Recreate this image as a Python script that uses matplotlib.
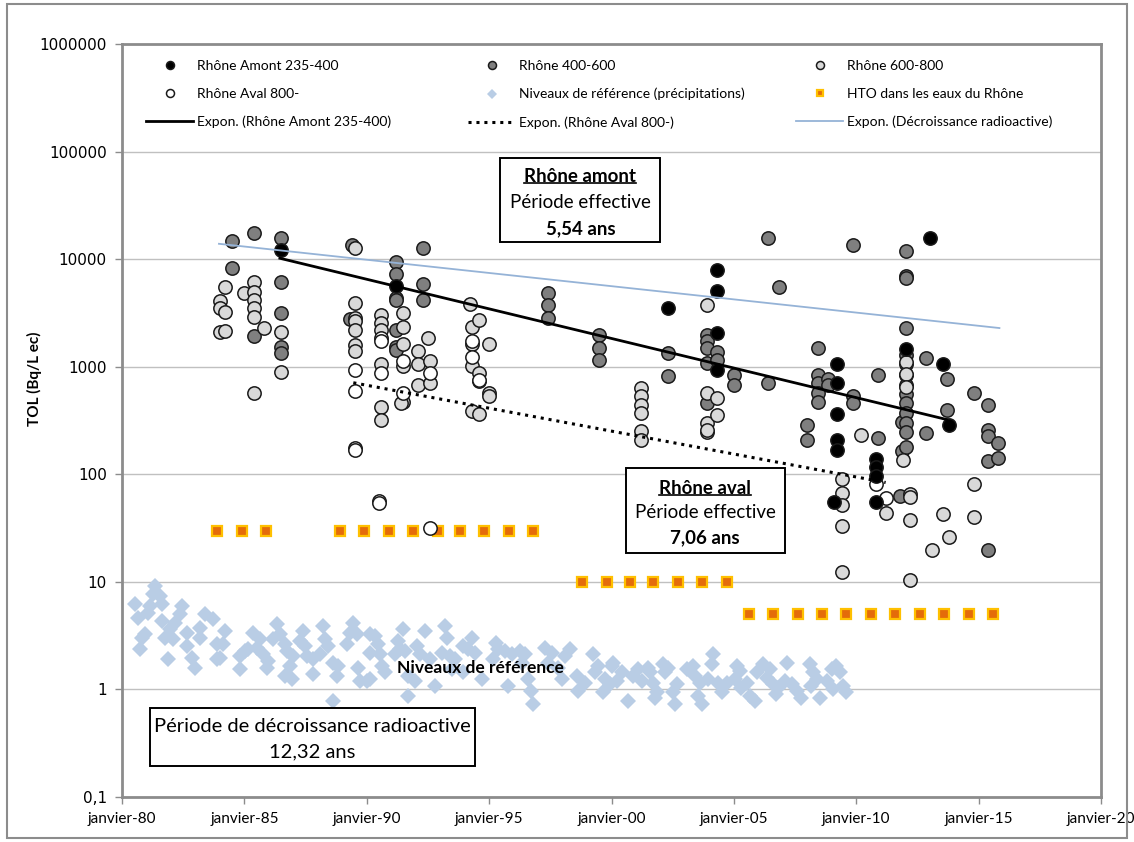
"""
plot.py - TOL dans le Rhône (log scale), recreated with matplotlib
"""

# === IMPORTS ===

import matplotlib

matplotlib.use("Agg")
import matplotlib.pyplot as plt
from matplotlib.legend import Legend
from matplotlib.lines import Line2D
from matplotlib.patches import Rectangle
from matplotlib.ticker import NullLocator

# === DATA (years as decimal years, values in Bq/L ec) ===

AMONT_YEARS = [1986.5, 1991.2, 2002.3, 2004.3, 2004.3, 2004.3, 2004.3,
               2009.2, 2009.2, 2009.2, 2009.2, 2009.2, 2009.1,
               2010.8, 2010.8, 2010.8, 2010.8, 2012.05, 2013.0, 2013.55, 2013.8]
AMONT_VALUES = [12200, 5670, 3500, 7900, 5100, 2050, 940,
                1050, 700, 360, 210, 170, 55,
                138, 118, 97, 55, 1450, 15800, 1050, 290]

MID_YEARS = [1984.5, 1984.5, 1985.4, 1985.4,
             1986.5, 1986.5, 1986.5, 1986.5, 1986.5, 1989.4, 1989.3,
             1991.2, 1991.2, 1991.2, 1991.2, 1991.2, 1991.2, 1991.2,
             1992.3, 1992.3, 1992.3, 1997.4, 1997.4, 1997.4,
             1999.5, 1999.5, 1999.5, 2002.3, 2002.3,
             2003.9, 2003.9, 2003.9, 2003.9, 2003.9, 2004.3, 2004.3,
             2005.0, 2005.0, 2006.4, 2006.4, 2006.85, 2008.0, 2008.0,
             2008.45, 2008.45, 2008.45, 2008.45, 2008.45, 2008.85, 2008.85,
             2009.85, 2009.85, 2009.85, 2010.9, 2010.9, 2011.8, 2011.85, 2011.85,
             2012.05, 2012.05, 2012.05, 2012.05, 2012.05, 2012.05, 2012.05,
             2012.05, 2012.05, 2012.05, 2012.05, 2012.05, 2012.05, 2012.05,
             2012.85, 2012.85, 2013.7, 2013.7, 2014.8,
             2015.4, 2015.4, 2015.4, 2015.4, 2015.4, 2015.8, 2015.8]
MID_VALUES = [14800, 8300, 17600, 1940,
              15800, 6100, 3160, 1540, 1350, 13500, 2800,
              9460, 7300, 4380, 4200, 2210, 1540, 1440,
              12800, 5900, 4200, 4880, 3780, 2830,
              1990, 1500, 1160, 1350, 815,
              1990, 1740, 1500, 1090, 462, 1370, 1160,
              845, 683, 15800, 710, 5540, 290, 210,
              1500, 845, 700, 575, 470, 770, 680,
              13600, 530, 460, 830, 218, 63, 309, 165,
              11800, 7000, 6700, 2290, 1290, 1050, 845,
              683, 555, 460, 370, 300, 245, 180,
              1210, 243, 770, 400, 571,
              445, 261, 228, 134, 20, 194, 141]

HIGH_YEARS = [1984.0, 1984.0, 1984.0, 1984.2, 1984.2, 1984.2, 1985.0,
              1985.4, 1985.4, 1985.4, 1985.4, 1985.4, 1985.4, 1985.8, 1986.5, 1986.5,
              1989.5, 1989.5, 1989.5, 1989.5, 1989.5, 1989.5, 1989.5,
              1990.6, 1990.6, 1990.6, 1990.6, 1990.6, 1990.6,
              1991.5, 1991.5, 1991.5, 1991.5, 1991.5, 1991.4,
              1992.1, 1992.1, 1992.1, 1992.5, 1992.6, 1992.6,
              1994.2, 1994.3, 1994.3, 1994.3, 1994.3,
              1994.6, 1994.6, 1994.6, 1994.6, 1995.0, 1995.0, 1995.0,
              2001.2, 2001.2, 2001.2, 2001.2, 2001.2, 2001.2,
              2003.9, 2003.9, 2003.9, 2003.9, 2003.9, 2004.3, 2004.3,
              2009.4, 2009.4, 2009.4, 2009.4, 2009.4, 2010.2, 2011.2, 2011.9,
              2012.2, 2012.2, 2012.2, 2012.2, 2012.05, 2012.05, 2012.05,
              2013.1, 2013.55, 2013.8, 2014.8, 2014.8]
HIGH_VALUES = [4050, 3540, 2120, 5540, 3250, 2130, 4880,
               6170, 4980, 4200, 3540, 2920, 575, 2310, 2120, 900,
               12800, 3930, 2850, 2640, 2210, 1600, 1390,
               3040, 2560, 2210, 1050, 426, 323,
               3160, 2350, 1640, 1020, 470, 464,
               1390, 1050, 683, 1860, 1140, 710,
               3850, 2350, 1640, 1020, 390,
               2740, 880, 730, 360, 1640, 575, 530,
               635, 530, 445, 373, 253, 210,
               3780, 575, 300, 245, 261, 510, 355,
               90, 67, 52, 33, 12.3, 230, 44, 137,
               66, 62, 38, 10.4, 1100, 850, 650,
               20, 43, 26, 81, 40]

AVAL_YEARS = [1989.5, 1989.5, 1989.5, 1989.5, 1990.5, 1990.5,
              1990.6, 1990.6, 1990.6, 1991.5, 1991.5, 1992.6, 1992.6,
              1994.3, 1994.3, 1994.6, 2010.8, 2011.2]
AVAL_VALUES = [925, 590, 175, 170, 56, 54,
               1860, 1740, 880, 1140, 575, 880, 31.5,
               1740, 1220, 760, 81, 60]

PRECIP_YEARS = [
    1981.35, 1981.28, 1981.55, 1981.62, 1980.53, 1980.67, 1981.08, 1981.14, 1980.94, 1980.8,
    1980.73, 1981.62, 1981.89, 1982.44, 1982.37, 1982.16, 1981.96, 1981.76, 1982.1, 1982.64,
    1982.64, 1982.85, 1982.98, 1983.39, 1983.73, 1983.19, 1983.19, 1983.87, 1984.14, 1984.21,
    1984.0, 1983.87, 1984.82, 1985.02, 1985.16, 1985.36, 1985.64, 1985.5, 1985.77, 1985.98,
    1985.91, 1984.82, 1986.32, 1986.18, 1986.45, 1986.66, 1986.73, 1987.0, 1986.86, 1986.66,
    1986.93, 1987.41, 1987.27, 1987.47, 1987.54, 1987.82, 1987.82, 1988.22, 1988.29, 1988.43,
    1988.09, 1988.63, 1988.84, 1988.77, 1988.63, 1989.45, 1989.31, 1989.18, 1989.59, 1989.65,
    1989.72, 1989.99,
    1990.13, 1990.33, 1990.47, 1990.13, 1990.54, 1990.61, 1990.74, 1990.13, 1991.29, 1991.49,
    1991.36, 1991.56, 1991.15, 1991.7, 1991.97, 1992.04, 1992.17, 1992.38, 1992.58, 1992.79,
    1991.7, 1993.19, 1993.26, 1993.06, 1993.4, 1993.6, 1993.47, 1993.94, 1994.28, 1994.15,
    1994.42, 1993.94, 1994.69, 1995.3, 1995.37, 1995.17, 1995.65, 1995.92, 1996.26, 1996.46,
    1996.33, 1995.78, 1996.6, 1996.73, 1996.8, 1997.28, 1997.55, 1997.42, 1997.82, 1998.3,
    1998.1, 1997.96, 1998.57, 1998.64, 1998.91, 1999.25, 1999.46, 1999.32, 1999.73, 1999.93,
    1999.66, 2000.0,
    2000.07, 2000.41, 2000.21, 2000.68, 2000.89, 2001.09, 2001.23, 2001.5, 2001.57, 2001.71,
    2001.84, 2001.77, 2002.11, 2002.32, 2002.18, 2002.66, 2002.52, 2002.59, 2003.07, 2003.34,
    2003.41, 2003.61, 2003.54, 2003.68, 2003.95, 2004.16, 2004.09, 2004.36, 2004.5, 2004.7,
    2005.11, 2005.25, 2005.04, 2005.31, 2005.52, 2005.65, 2005.86, 2005.93, 2006.2, 2006.34,
    2006.47, 2006.61, 2006.74, 2006.81, 2007.15, 2007.08, 2007.36, 2007.56, 2007.76, 2008.1,
    2008.24, 2008.38, 2008.17, 2008.51, 2008.79, 2008.99, 2009.19, 2009.33, 2009.06, 2009.47,
    2009.6,
]
PRECIP_VALUES = [
    9.1, 7.65, 7.4, 6.2, 6.2, 4.65, 5.18, 5.97, 3.25, 3.03,
    2.36, 4.33, 1.91, 5.97, 4.99, 4.18, 3.62, 3.03, 2.92, 3.37,
    2.54, 1.98, 1.6, 4.99, 4.49, 3.75, 3.03, 2.63, 2.63, 3.49,
    1.98, 1.91, 2.05, 2.28, 2.36, 3.37, 2.92, 2.45, 2.12, 1.84,
    1.6, 1.54, 4.03, 2.92, 3.25, 2.63, 2.28, 2.05, 1.65, 1.34,
    1.24, 3.49, 2.82, 2.54, 2.05, 1.91, 1.38, 3.89, 2.92, 2.54,
    2.12, 1.78, 1.65, 1.34, 0.78, 4.18, 3.37, 2.63, 3.25, 1.6,
    1.2, 1.2,
    3.25, 3.14, 2.63, 2.2, 2.12, 1.65, 1.44, 1.24, 2.82, 3.62,
    2.36, 2.28, 2.12, 1.34, 1.2, 2.54, 2.12, 3.49, 1.91, 1.08,
    0.87, 3.89, 3.03, 2.2, 2.05, 1.91, 1.54, 2.54, 3.03, 2.36,
    2.2, 1.44, 1.24, 2.72, 2.36, 1.91, 2.28, 2.12, 2.28, 2.12,
    1.78, 1.08, 1.24, 0.97, 0.73, 2.45, 2.2, 1.78, 1.6, 2.36,
    2.05, 1.24, 1.34, 0.97, 1.16, 2.12, 1.65, 1.44, 1.24, 1.12,
    0.94, 1.65,
    1.78, 1.44, 1.2, 0.78, 1.34, 1.54, 1.2, 1.6, 1.44, 1.16,
    0.94, 0.84, 1.71, 1.6, 1.44, 1.12, 0.94, 0.73, 1.54, 1.65,
    1.34, 1.16, 0.87, 0.73, 1.24, 2.12, 1.71, 1.16, 0.94, 1.16,
    1.65, 1.49, 1.24, 1.04, 1.16, 0.87, 0.78, 1.44, 1.71, 1.29,
    1.54, 1.12, 0.9, 1.04, 1.78, 1.2, 1.12, 0.97, 0.84, 1.71,
    1.44, 1.24, 1.08, 0.84, 1.2, 1.54, 1.65, 1.44, 1.0, 1.08,
    0.94,
]

HTO_YEARS = [1983.9, 1984.9, 1985.9, 1988.9, 1989.9, 1990.9, 1991.9, 1992.9,
             1993.8, 1994.8, 1995.8, 1996.8,
             1998.8, 1999.8, 2000.75, 2001.7, 2002.7, 2003.7, 2004.7,
             2005.6, 2006.6, 2007.6, 2008.6, 2009.6, 2010.6, 2011.6, 2012.6,
             2013.6, 2014.6, 2015.6]
HTO_VALUES = [30, 30, 30, 30, 30, 30, 30, 30, 30, 30, 30, 30,
              10, 10, 10, 10, 10, 10, 10,
              5, 5, 5, 5, 5, 5, 5, 5, 5, 5, 5]

# exponential trend lines: end points only (straight on a log axis)
TREND_AMONT_YEARS = [1986.45, 2013.7]
TREND_AMONT_VALUES = [10200, 323]
TREND_AVAL_YEARS = [1989.45, 2011.2]
TREND_AVAL_VALUES = [710, 84]
TREND_DECAY_YEARS = [1983.96, 2015.85]
TREND_DECAY_VALUES = [13900, 2290]

X_TICKS = [1980, 1985, 1990, 1995, 2000, 2005, 2010, 2015, 2020]
X_TICK_LABELS = ["janvier-80", "janvier-85", "janvier-90", "janvier-95", "janvier-00",
                 "janvier-05", "janvier-10", "janvier-15", "janvier-20"]
Y_TICKS = [0.1, 1, 10, 100, 1000, 10000, 100000, 1000000]
Y_TICK_LABELS = ["0,1", "1", "10", "100", "1000", "10000", "100000", "1000000"]

# === STYLE ===

plt.rcParams["font.family"] = ["Lato", "DejaVu Sans"]
FRAME_GRAY = "#8C8C8C"
EDGE = "#1A1A1A"

fig = plt.figure(figsize=(11.34, 8.42), dpi=100)
fig.patches.append(Rectangle((0.006, 0.005), 0.988, 0.99, transform=fig.transFigure,
                             fill=False, edgecolor=FRAME_GRAY, linewidth=1.5))
ax = fig.add_axes([0.1076, 0.0534, 0.8633, 0.8943])

ax.set_yscale("log")
ax.set_ylim(0.1, 1e6)
ax.set_xlim(1980, 2020)
ax.yaxis.set_minor_locator(NullLocator())
ax.set_yticks(Y_TICKS)
ax.set_yticklabels(Y_TICK_LABELS, fontfamily="DejaVu Sans", fontsize=11)
ax.set_xticks(X_TICKS)
ax.set_xticklabels(X_TICK_LABELS, fontsize=11)
ax.tick_params(axis="both", length=5, color=FRAME_GRAY, width=1, pad=6)
ax.grid(axis="y", color="#C0C0C0", linewidth=1)
ax.set_axisbelow(True)
for spine in ax.spines.values():
    spine.set_color(FRAME_GRAY)
    spine.set_linewidth(2)

ax.set_ylabel("TOL (Bq/L ec)", fontsize=11, fontweight="bold")
ax.yaxis.set_label_coords(-0.082, 0.556)

# === SERIES ===

h_precip, = ax.plot(PRECIP_YEARS, PRECIP_VALUES, ls="none", marker="D", ms=8,
                    mfc="#B9CDE5", mec="#B9CDE5", mew=0, zorder=2,
                    label="Niveaux de référence (précipitations)")
h_hto, = ax.plot(HTO_YEARS, HTO_VALUES, ls="none", marker="s", ms=7, mfc="#E46C0A",
                 mec="#FFC000", mew=1.6, zorder=3, label="HTO dans les eaux du Rhône")

circle = dict(ls="none", marker="o", ms=9.6, mec=EDGE, mew=1.1)
h_mid, = ax.plot(MID_YEARS, MID_VALUES, mfc="#7F7F7F", zorder=4,
                 label="Rhône 400-600", **circle)
h_high, = ax.plot(HIGH_YEARS, HIGH_VALUES, mfc="#D9D9D9", zorder=5,
                  label="Rhône 600-800", **circle)
h_aval, = ax.plot(AVAL_YEARS, AVAL_VALUES, mfc="#FFFFFF", zorder=6,
                  label="Rhône Aval 800-", **circle)
h_amont, = ax.plot(AMONT_YEARS, AMONT_VALUES, mfc="#000000", zorder=7,
                   label="Rhône Amont 235-400", **circle)

h_t_amont, = ax.plot(TREND_AMONT_YEARS, TREND_AMONT_VALUES, color="black", lw=2,
                     zorder=8, label="Expon. (Rhône Amont 235-400)")
h_t_aval, = ax.plot(TREND_AVAL_YEARS, TREND_AVAL_VALUES, color="black", lw=2.2,
                    ls=(0, (1, 1.6)), zorder=8, label="Expon. (Rhône Aval 800-)")
h_t_decay, = ax.plot(TREND_DECAY_YEARS, TREND_DECAY_VALUES, color="#95B3D7", lw=1.3,
                     zorder=8, label="Expon. (Décroissance radioactive)")

# === LEGEND (three single-column blocks) ===

legend_cols = [
    ([h_amont, h_aval, h_t_amont], 0.0245),
    ([h_mid, h_precip, h_t_aval], 0.3535),
    ([h_high, h_hto, h_t_decay], 0.6884),
]
for handles, x_anchor in legend_cols:
    leg = Legend(ax, handles, [h.get_label() for h in handles], loc="upper left",
                 bbox_to_anchor=(x_anchor, 0.979), frameon=False, fontsize=10,
                 handlelength=3.4, handletextpad=0.3, labelspacing=1.15,
                 borderpad=0, borderaxespad=0, markerscale=0.6)
    ax.add_artist(leg)

# === ANNOTATIONS ===


def text_box(x0, y0, x1, y1):
    ax.add_patch(Rectangle((x0, y0), x1 - x0, y1 - y0, transform=ax.transAxes,
                           facecolor="white", edgecolor="black", linewidth=1.4,
                           zorder=9))


def box_text(x, y, s, bold=False, size=13.5):
    return ax.text(x, y, s, transform=ax.transAxes, ha="center", va="center",
                   fontsize=size, fontweight="bold" if bold else "normal", zorder=10)


text_box(0.3861, 0.737, 0.5495, 0.8486)
t_amont = box_text(0.4683, 0.8247, "Rhône amont", bold=True)
box_text(0.4683, 0.7889, "Période effective")
box_text(0.4683, 0.7543, "5,54 ans", bold=True)

text_box(0.5148, 0.324, 0.6772, 0.4369)
t_aval = box_text(0.5955, 0.4104, "Rhône aval", bold=True)
box_text(0.5955, 0.3785, "Période effective")
box_text(0.5955, 0.344, "7,06 ans", bold=True)

text_box(0.0286, 0.0412, 0.3606, 0.1182)
box_text(0.1941, 0.0943, "Période de décroissance radioactive", size=14.5)
box_text(0.1941, 0.0598, "12,32 ans", size=14.5)

ax.text(0.3657, 0.1713, "Niveaux de référence", transform=ax.transAxes, ha="center",
        va="center", fontsize=12.5, fontweight="bold", zorder=10)

# underline the two bold titles
fig.canvas.draw()
renderer = fig.canvas.get_renderer()
for t in (t_amont, t_aval):
    bb = t.get_window_extent(renderer).transformed(fig.transFigure.inverted())
    y_line = bb.y0 + 0.002
    fig.add_artist(Line2D([bb.x0, bb.x1], [y_line, y_line], color="black", lw=1.2,
                          transform=fig.transFigure, zorder=11))

fig.savefig("out.png", dpi=100)
